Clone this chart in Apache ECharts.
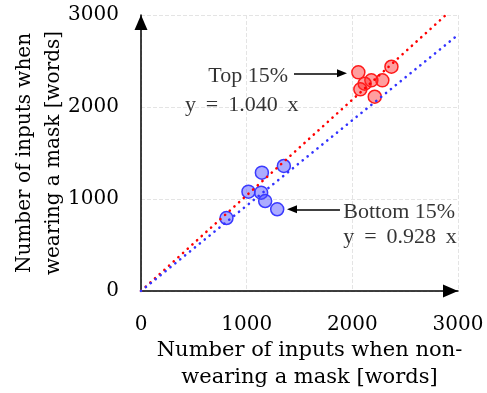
<!DOCTYPE html>
<html>
<head>
<meta charset="utf-8">
<script src="https://cdn.jsdelivr.net/npm/echarts@6/dist/echarts.min.js"></script>
<style>html,body{margin:0;padding:0;background:#fff;}#c{width:487px;height:393px;}</style>
</head>
<body>
<div id="c"></div>
<script>
// ---- data ----
const axisTicks = [0, 1000, 2000, 3000];
const topPoints = [[2057, 2377], [2370, 2438], [2180, 2290], [2284, 2290], [2117, 2253], [2076, 2192], [2212, 2112]];
const bottomPoints = [[809, 793], [1017, 1080], [1144, 1286], [1137, 1069], [1175, 978], [1289, 888], [1352, 1359]];
const topFit = [[0, 0], [2885, 3000]];      // y = 1.040 x
const bottomFit = [[0, 0], [3000, 2784]];   // y = 0.928 x
const annotations = [
  { text: 'Top 15%', at: [1392, 2340], side: 'left' },
  { text: 'y \u2009= \u20091.040 \u2009x', at: [416, 2015], side: 'right' },
  { text: 'Bottom 15%', at: [1914, 855], side: 'right' },
  { text: 'y \u2009= \u20090.928 \u2009x', at: [1914, 582], side: 'right' }
];
const arrows = [
  [[1448, 2366], [1902, 2366]],
  [[1883, 888], [1429, 888]]
];
const xName = 'Number of inputs when non-\nwearing a mask [words]';
const yName = 'Number of inputs when\nwearing a mask [words]';

const serif = 'DejaVu Serif';
const times = 'Liberation Serif';

const chart = echarts.init(document.getElementById('c'), null, { renderer: 'canvas' });

function axisCommon(name, isY) {
  return {
    type: 'value', min: axisTicks[0], max: axisTicks[axisTicks.length - 1], interval: 1000,
    name: name, nameLocation: 'middle', nameMoveOverlap: false,
    nameGap: isY ? 73 : 46,
    nameTextStyle: isY
      ? { fontFamily: serif, fontSize: 20, color: '#000', lineHeight: 29 }
      : { fontFamily: serif, fontSize: 21, color: '#000', lineHeight: 27, padding: [0, 0, 0, 20] },
    axisLine: { show: true, onZero: false, lineStyle: { color: '#000', width: 1.5 },
      symbol: ['none', 'triangle'], symbolSize: [13, 15], symbolOffset: [0, -7.5] },
    axisTick: { show: false },
    axisLabel: { fontFamily: serif, fontSize: 20, color: '#000', margin: isY ? 22 : 24,
      formatter: v => String(v) },
    splitLine: { show: true, lineStyle: { color: '#e4e4e4', width: 1, type: [4, 2] } }
  };
}

chart.setOption({
  animation: false,
  grid: { left: 141, right: 29, top: 15, bottom: 102, containLabel: false, outerBoundsMode: 'none' },
  xAxis: axisCommon(xName, false),
  yAxis: axisCommon(yName, true),
  series: [
    { type: 'scatter', data: topPoints, symbolSize: 13, z: 2,
      itemStyle: { color: 'rgba(255,40,40,0.45)', borderColor: '#ff1a1a', borderWidth: 1.5, opacity: 1 } },
    { type: 'scatter', data: bottomPoints, symbolSize: 13, z: 2,
      itemStyle: { color: 'rgba(70,70,255,0.45)', borderColor: '#3a3aff', borderWidth: 1.5, opacity: 1 } },
    { type: 'line', data: topFit, symbol: 'none', z: 3, silent: true,
      lineStyle: { color: '#ff0000', width: 2.6, type: [0.1, 6.2], cap: 'round' } },
    { type: 'line', data: bottomFit, symbol: 'none', z: 3, silent: true,
      lineStyle: { color: '#3333ff', width: 2.6, type: [0.1, 6.2], cap: 'round' } },
    { type: 'scatter', symbolSize: 0, z: 4, silent: true,
      data: annotations.map(a => ({
        value: a.at,
        label: { show: true, formatter: a.text, position: a.side, distance: 0,
          fontFamily: times, fontSize: 22, color: '#000' }
      })),
      markLine: {
        silent: true, symbol: ['none', 'triangle'], symbolSize: [8, 10],
        label: { show: false },
        lineStyle: { color: '#000', width: 1.5, type: 'solid' },
        data: arrows.map(a => [{ coord: a[0] }, { coord: a[1] }])
      }
    }
  ]
});
</script>
</body>
</html>
